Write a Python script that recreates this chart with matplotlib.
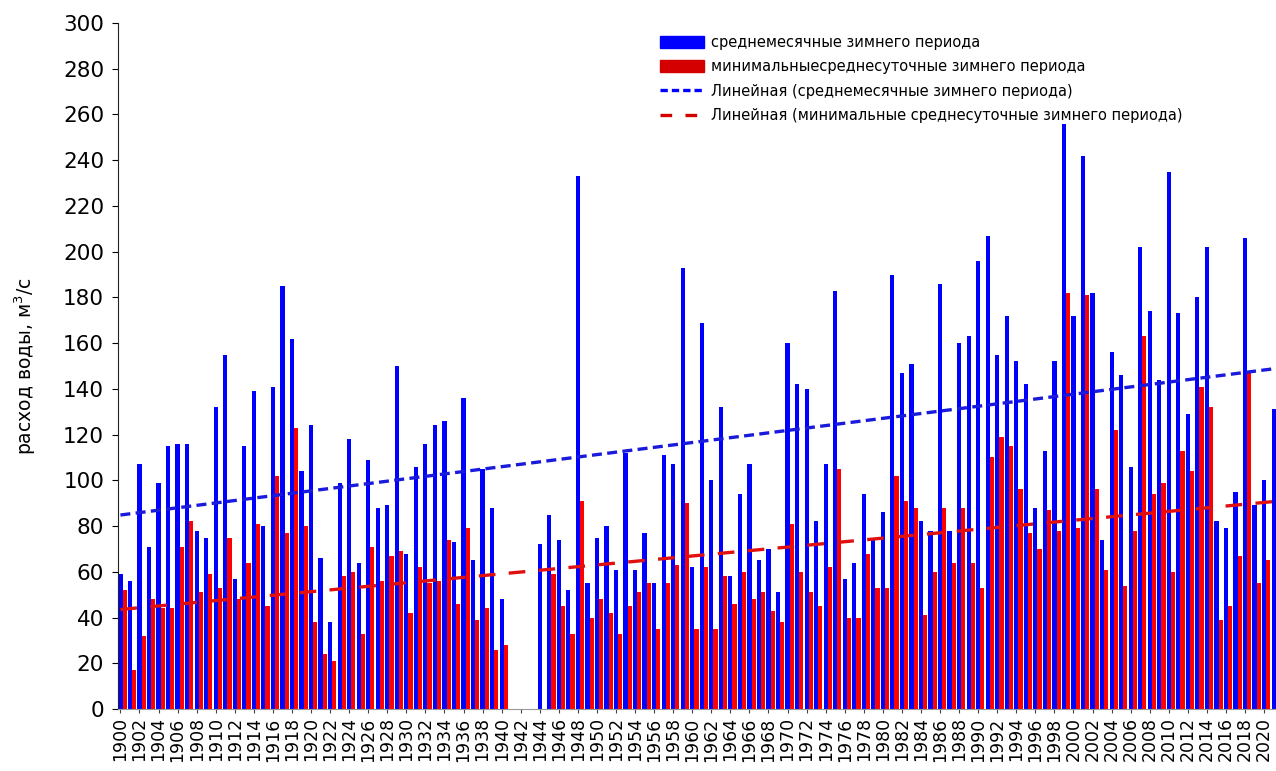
"""
Расход воды зимнего периода, 1900-2021
"""

import numpy as np
import matplotlib.pyplot as plt
from matplotlib.patches import Patch
from matplotlib.lines import Line2D

plt.rcParams['font.family'] = ['DejaVu Sans']

# Годы наблюдений
years = np.arange(1900, 2022)

# Среднемесячные расходы зимнего периода (м3/с), 1941-1943 - пропуск
avg_winter = [
    59, 56, 107, 71, 99, 115, 116, 116, 78, 75,
    132, 155, 57, 115, 139, 80, 141, 185, 162, 104,
    124, 66, 38, 99, 118, 64, 109, 88, 89, 150,
    68, 106, 116, 124, 126, 73, 136, 65, 105, 88,
    48, np.nan, np.nan, np.nan, 72, 85, 74, 52, 233, 55,
    75, 80, 61, 112, 61, 77, 55, 111, 107, 193,
    62, 169, 100, 132, 58, 94, 107, 65, 70, 51,
    160, 142, 140, 82, 107, 183, 57, 64, 94, 74,
    86, 190, 147, 151, 82, 78, 186, 78, 160, 163,
    196, 207, 155, 172, 152, 142, 88, 113, 152, 256,
    172, 242, 182, 74, 156, 146, 106, 202, 174, 144,
    235, 173, 129, 180, 202, 82, 79, 95, 206, 89,
    100, 131,
]

# Минимальные среднесуточные расходы зимнего периода (м3/с)
min_winter = [
    52, 17, 32, 48, 44, 44, 71, 82, 51, 59,
    53, 75, 48, 64, 81, 45, 102, 77, 123, 80,
    38, 24, 21, 58, 60, 33, 71, 56, 67, 69,
    42, 62, 55, 56, 74, 46, 79, 39, 44, 26,
    28, np.nan, np.nan, np.nan, np.nan, 59, 45, 33, 91, 40,
    48, 42, 33, 45, 51, 55, 35, 55, 63, 90,
    35, 62, 35, 58, 46, 60, 48, 51, 43, 38,
    81, 60, 51, 45, 62, 105, 40, 40, 68, 53,
    53, 102, 91, 88, 41, 60, 88, 64, 88, 64,
    53, 110, 119, 115, 96, 77, 70, 87, 78, 182,
    79, 181, 96, 61, 122, 54, 78, 163, 94, 99,
    60, 113, 104, 141, 132, 39, 45, 67, 147, 55,
    65, 65,
]

labels = ["среднемесячные зимнего периода",
          "минимальныесреднесуточные зимнего периода",
          "Линейная (среднемесячные зимнего периода)",
          "Линейная (минимальные среднесуточные зимнего периода)"]

avg_winter = np.array(avg_winter, dtype=float)
min_winter = np.array(min_winter, dtype=float)


def trend(x, y):
    """Линейный тренд по имеющимся значениям"""
    ok = ~np.isnan(y)
    k, b = np.polyfit(x[ok], y[ok], 1)
    return k * x + b


fig = plt.figure(figsize=(12.76, 7.71), dpi=100)
ax = fig.add_axes([0.0925, 0.0804, 0.9075, 0.8898])

# Столбцы
ax.bar(years, avg_winter, width=0.44, color='#0000ff', align='center', zorder=2)
ax.bar(years + 0.44, min_winter, width=0.44, color='#ff0000', align='center', zorder=2)

# Линии тренда
ax.plot(years, trend(years, avg_winter), color='#1a1adc', lw=2.4,
        dashes=(3, 1.6), zorder=3)
ax.plot(years, trend(years, min_winter), color='#e01010', lw=2.4,
        dashes=(5, 4), zorder=3)

# Оси
ax.set_xlim(1899.75, 2021.25)
ax.set_ylim(0, 300)
ax.set_yticks(np.arange(0, 301, 20))
ax.set_xticks(np.arange(1900, 2021, 2))
ax.set_xticklabels([str(y) for y in range(1900, 2021, 2)], rotation=90)
ax.tick_params(axis='x', labelsize=12.5, length=3, color='#444444', pad=3)
ax.tick_params(axis='y', labelsize=15.5, length=4, pad=6)
ax.set_ylabel("расход воды, м$^3$/с", fontsize=13.5, labelpad=18)

for side in ('top', 'right'):
    ax.spines[side].set_visible(False)
ax.spines['left'].set_color('#222222')
ax.spines['bottom'].set_color('#999999')

# Легенда
handles = [Patch(color='#0000ff'),
           Patch(color='#d40000'),
           Line2D([], [], color='#0000ff', lw=2.4, dashes=(2.2, 1.2)),
           Line2D([], [], color='#d40000', lw=2.4, dashes=(3.5, 4))]
fig.legend(handles, labels, loc='upper left',
           bbox_to_anchor=(0.513, 0.962), frameon=False, fontsize=10.5,
           handlelength=3.0, handleheight=0.9, handletextpad=0.45,
           labelspacing=0.64, borderaxespad=0)

fig.savefig("out.png", dpi=100)
